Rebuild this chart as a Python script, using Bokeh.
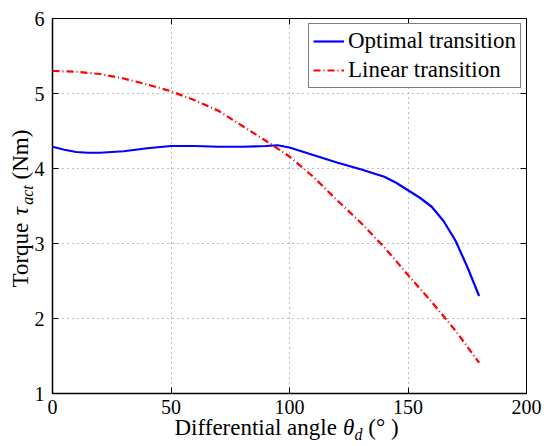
import math
from bokeh.plotting import figure
from bokeh.models import (Range1d, LinearAxis, FixedTicker, CustomJSTickFormatter,
                          Legend)
from bokeh.core.properties import value
from bokeh.embed import file_html
from bokeh.resources import INLINE

# ---- data ----
opt_x = [0, 5, 10, 15, 20, 30, 40, 50, 60, 70, 80, 90, 95, 100, 110, 120, 130,
         135, 140, 145, 150, 155, 160, 165, 170, 175, 180]
opt_y = [4.29, 4.25, 4.22, 4.21, 4.21, 4.23, 4.27, 4.30, 4.30, 4.29, 4.29, 4.30,
         4.31, 4.28, 4.18, 4.08, 3.99, 3.94, 3.89, 3.81, 3.71, 3.61, 3.49, 3.30,
         3.04, 2.69, 2.30]

lin_x = [0, 10, 20, 30, 40, 50, 60, 70, 80, 90, 100, 110, 120, 130, 140, 150,
         160, 170, 180]
lin_y = [5.30, 5.29, 5.26, 5.20, 5.12, 5.03, 4.91, 4.77, 4.57, 4.37, 4.16, 3.89,
         3.58, 3.28, 2.95, 2.58, 2.22, 1.84, 1.41]

x_ticks = [0, 50, 100, 150, 200]
y_ticks = [1, 2, 3, 4, 5, 6]
series_names = ["Optimal transition", "Linear transition"]

FONT = "Liberation Serif"

p = figure(frame_width=474, frame_height=375, output_backend="svg",
           toolbar_location=None, x_range=Range1d(0, 200), y_range=Range1d(1, 6),
           min_border_left=52, min_border_right=18, min_border_top=18,
           min_border_bottom=53, background_fill_color="white",
           border_fill_color="white")

p.outline_line_color = "black"
p.outline_line_width = 1

for ax in (p.xaxis[0], p.yaxis[0]):
    ax.major_tick_in = 6
    ax.major_tick_out = 0
    ax.minor_tick_in = 0
    ax.minor_tick_out = 0
    ax.axis_line_color = "black"
    ax.axis_line_width = 1.5
    ax.major_tick_line_color = "black"
    ax.major_label_text_font = FONT
    ax.major_label_text_font_size = "20px"
    ax.major_label_text_color = "black"
p.xaxis[0].ticker = FixedTicker(ticks=x_ticks)
p.yaxis[0].ticker = FixedTicker(ticks=y_ticks)
p.xaxis[0].major_label_standoff = 6
p.yaxis[0].major_label_standoff = 8

blank = CustomJSTickFormatter(code="return ''")
top = LinearAxis(ticker=FixedTicker(ticks=x_ticks), formatter=blank,
                 major_tick_in=6, major_tick_out=0, minor_tick_in=0, minor_tick_out=0,
                 axis_line_color="black", major_label_standoff=0)
right = LinearAxis(ticker=FixedTicker(ticks=y_ticks), formatter=blank,
                   major_tick_in=6, major_tick_out=0, minor_tick_in=0, minor_tick_out=0,
                   axis_line_color="black", major_label_standoff=0)
p.add_layout(top, "above")
p.add_layout(right, "right")

for g in (p.xgrid[0], p.ygrid[0]):
    g.grid_line_color = "#7a7a7a"
    g.grid_line_dash = "1 4"
    g.grid_line_width = 1
p.xgrid[0].ticker = FixedTicker(ticks=x_ticks)
p.ygrid[0].ticker = FixedTicker(ticks=y_ticks)

r1 = p.line(opt_x, opt_y, line_color="#0000ff", line_width=2.2)
r2 = p.line(lin_x, lin_y, line_color="#ff0000", line_width=2.2, line_dash="7 3 1 3")

legend = Legend(items=[(series_names[0], [r1]), (series_names[1], [r2])],
                location="top_right", margin=5, padding=4, spacing=3,
                glyph_width=31, glyph_height=24, label_height=24,
                label_standoff=4, border_line_color="black", border_line_width=1,
                background_fill_color="white", background_fill_alpha=1,
                label_text_font=FONT, label_text_font_size="23px",
                label_text_color="black")
p.add_layout(legend, "center")

# ---- axis titles built from pieces (italic symbols with subscripts) ----
# anchored at the frame's bottom-left corner (x=0, y=1), offsets in pixels
LS = 23  # main label size
SS = 16  # subscript size


def piece(txt, style, size, dx, dy, angle=0.0):
    p.text(x=[x_ticks[0]], y=[y_ticks[0]], text=[txt], x_offset=dx, y_offset=dy,
           angle=angle, text_font=value(FONT), text_font_style=value(style),
           text_font_size=value(f"{size}px"), text_color="black",
           text_align=value("left"), text_baseline=value("middle"),
           level="overlay")


SP = 0.25 * LS  # width of a space
# x label (text middle line 34 px below the axis)
cx = 122
ym = 34
for txt, style, size, dy, adv in [("Differential angle", "normal", LS, 0, 7.081 * LS + SP),
                                  ("θ", "italic", LS, 0, 0.50 * LS),
                                  ("d", "italic", SS, 7, 0.50 * SS + SP),
                                  ("(° )", "normal", LS, 0, 0)]:
    piece(txt, style, size, cx, ym + dy)
    cx += adv

# y label (rotated), middle line 32 px left of the axis
xm = -32
cy = -106
for txt, style, size, dx, adv in [("Torque", "normal", LS, 0, 2.888 * LS + SP),
                                  ("τ", "italic", LS, 0, 0.46 * LS),
                                  ("act", "italic", SS, 7, 1.222 * SS + SP),
                                  ("(Nm)", "normal", LS, 0, 0)]:
    piece(txt, style, size, xm + dx, cy, angle=math.pi / 2)
    cy -= adv

open("out.html", "w").write(file_html(p, INLINE))
